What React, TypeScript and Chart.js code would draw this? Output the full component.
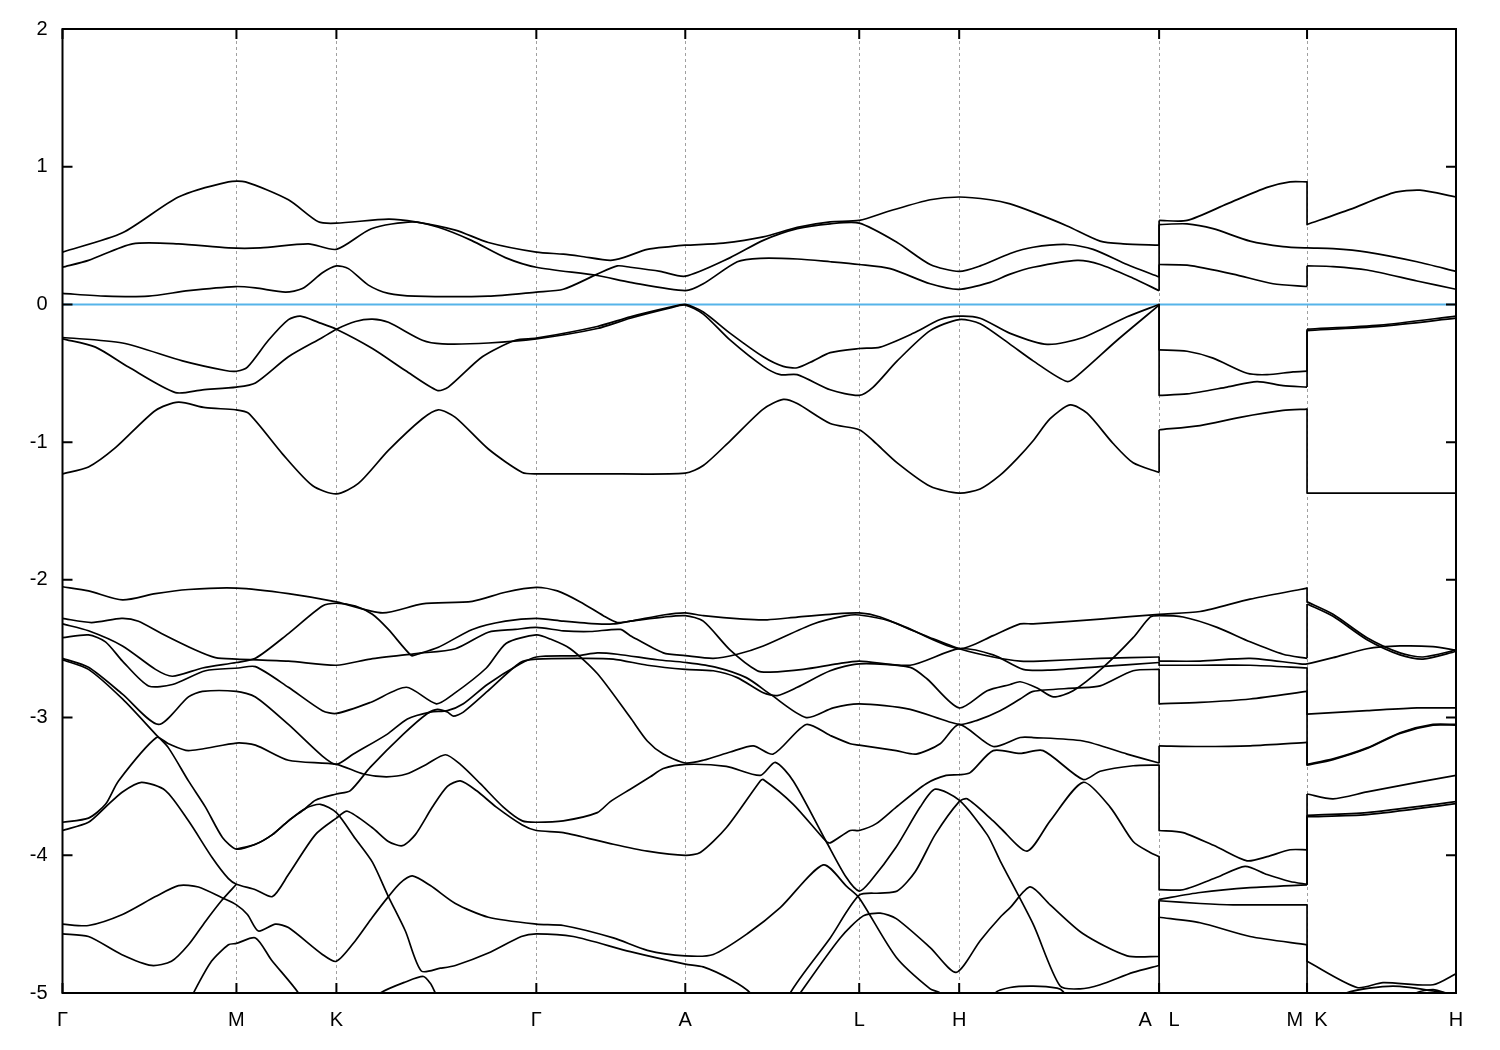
import React, { useEffect, useRef } from "react";
import { Chart, registerables } from "chart.js";

Chart.register(...registerables);

type Pt = [number, number];

// high-symmetry points along the k-path
const kTicks = [0, 174, 274, 474, 623, 797, 897, 1097, 1245, 1394];
const kLabels = ["Γ", "M", "K", "Γ", "A", "L", "H", "A   L", "M  K", "H"];
const energyTicks = [2, 1, 0, -1, -2, -3, -4, -5];
const fermiLevel = 0;

// conduction bands
const cb3: Pt[] = [[0,0.38],[60,0.52],[116,0.78],[166,0.89],[183,0.89],[226,0.76],[256,0.6],[274,0.59],[326,0.62],[353,0.6],[393,0.54],[426,0.45],[474,0.38],[501,0.365],[518,0.35],[548,0.32],[561,0.34],[585,0.4],[608,0.42],[623,0.43],[661,0.445],[701,0.49],[735,0.56],[768,0.6],[797,0.61],[828,0.68],[868,0.76],[897,0.78],[928,0.76],[948,0.73],[971,0.67],[1005,0.57],[1038,0.46],[1061,0.44],[1097,0.43],[1097,0.61],[1125,0.61],[1165,0.73],[1205,0.85],[1228,0.89],[1245,0.89],[1245,0.58],[1288,0.69],[1331,0.81],[1358,0.83],[1394,0.78]];
const cb2: Pt[] = [[0,0.27],[26,0.32],[70,0.44],[116,0.44],[166,0.41],[198,0.41],[246,0.44],[274,0.4],[309,0.55],[350,0.6],[376,0.56],[409,0.465],[443,0.34],[474,0.27],[535,0.21],[568,0.16],[623,0.1],[641,0.15],[675,0.31],[698,0.335],[735,0.33],[768,0.31],[797,0.29],[828,0.26],[868,0.15],[897,0.11],[928,0.16],[948,0.22],[971,0.27],[1015,0.32],[1038,0.29],[1071,0.19],[1097,0.1],[1097,0.29],[1125,0.285],[1171,0.22],[1211,0.15],[1245,0.13],[1245,0.28],[1271,0.275],[1305,0.25],[1355,0.17],[1394,0.11]];
const cb1: Pt[] = [[0,0.08],[43,0.06],[86,0.06],[126,0.1],[173,0.13],[193,0.12],[223,0.09],[240,0.115],[260,0.23],[274,0.28],[286,0.26],[306,0.14],[326,0.08],[353,0.06],[426,0.06],[474,0.09],[501,0.11],[535,0.22],[555,0.28],[568,0.27],[598,0.24],[623,0.205],[668,0.34],[701,0.465],[735,0.55],[768,0.585],[797,0.59],[835,0.45],[868,0.29],[897,0.24],[918,0.28],[948,0.37],[971,0.415],[1005,0.435],[1031,0.4],[1065,0.29],[1097,0.2],[1097,0.58],[1125,0.585],[1151,0.55],[1188,0.46],[1221,0.42],[1245,0.41],[1271,0.405],[1305,0.38],[1355,0.31],[1394,0.24]];

// upper valence bands
const vb1: Pt[] = [[0,-0.24],[60,-0.28],[120,-0.41],[163,-0.48],[174,-0.485],[185,-0.455],[206,-0.26],[226,-0.11],[238,-0.085],[256,-0.13],[274,-0.18],[310,-0.32],[343,-0.48],[375,-0.625],[386,-0.6],[420,-0.38],[453,-0.26],[474,-0.245],[535,-0.16],[568,-0.09],[608,-0.02],[623,0],[641,-0.055],[668,-0.21],[701,-0.38],[721,-0.45],[735,-0.46],[751,-0.41],[768,-0.35],[797,-0.32],[818,-0.31],[851,-0.21],[878,-0.11],[897,-0.085],[918,-0.1],[948,-0.21],[985,-0.29],[1021,-0.24],[1065,-0.09],[1097,0],[1097,-0.33],[1125,-0.34],[1151,-0.39],[1185,-0.5],[1205,-0.51],[1231,-0.49],[1245,-0.485],[1245,-0.18],[1318,-0.15],[1394,-0.085]];
const vb2: Pt[] = [[0,-0.25],[33,-0.31],[66,-0.455],[113,-0.64],[140,-0.62],[174,-0.6],[193,-0.57],[226,-0.38],[260,-0.24],[274,-0.18],[293,-0.124],[310,-0.107],[326,-0.13],[360,-0.26],[380,-0.286],[426,-0.28],[474,-0.25],[535,-0.175],[568,-0.1],[608,-0.025],[623,-0.005],[641,-0.07],[668,-0.26],[701,-0.45],[718,-0.51],[735,-0.51],[768,-0.62],[797,-0.66],[811,-0.6],[835,-0.41],[868,-0.19],[897,-0.11],[918,-0.14],[948,-0.29],[971,-0.41],[1005,-0.56],[1018,-0.5],[1055,-0.26],[1097,-0.005],[1097,-0.66],[1125,-0.65],[1165,-0.6],[1195,-0.56],[1221,-0.59],[1245,-0.6],[1245,-0.19],[1318,-0.16],[1394,-0.1]];
const vb3: Pt[] = [[0,-1.23],[26,-1.18],[53,-1.04],[93,-0.77],[116,-0.71],[143,-0.75],[173,-0.765],[186,-0.79],[220,-1.085],[250,-1.315],[274,-1.376],[296,-1.3],[326,-1.06],[360,-0.83],[376,-0.765],[393,-0.82],[426,-1.05],[460,-1.22],[474,-1.23],[538,-1.23],[623,-1.225],[641,-1.17],[668,-0.99],[701,-0.76],[721,-0.69],[735,-0.72],[768,-0.865],[797,-0.91],[811,-0.99],[835,-1.15],[868,-1.32],[897,-1.37],[918,-1.34],[938,-1.24],[955,-1.12],[971,-0.99],[988,-0.83],[1008,-0.73],[1025,-0.79],[1051,-1.01],[1071,-1.15],[1097,-1.22],[1097,-0.91],[1138,-0.88],[1178,-0.82],[1221,-0.77],[1245,-0.76],[1245,-1.37],[1394,-1.37]];

// lower valence bands
const lb1: Pt[] = [[0,-2.05],[26,-2.08],[60,-2.146],[93,-2.1],[126,-2.07],[174,-2.06],[226,-2.1],[274,-2.16],[320,-2.24],[360,-2.175],[410,-2.156],[443,-2.09],[474,-2.055],[495,-2.08],[518,-2.16],[541,-2.26],[555,-2.31],[568,-2.3],[601,-2.255],[623,-2.24],[641,-2.26],[681,-2.285],[705,-2.29],[735,-2.27],[768,-2.25],[797,-2.24],[818,-2.27],[851,-2.37],[897,-2.5],[931,-2.405],[958,-2.32],[971,-2.32],[1038,-2.285],[1097,-2.25],[1138,-2.23],[1188,-2.14],[1238,-2.07],[1245,-2.06],[1245,-2.16],[1271,-2.25],[1305,-2.42],[1338,-2.53],[1361,-2.56],[1394,-2.51]];
const lb2: Pt[] = [[0,-2.32],[26,-2.37],[60,-2.48],[93,-2.65],[110,-2.7],[140,-2.64],[174,-2.6],[193,-2.57],[226,-2.39],[260,-2.19],[274,-2.17],[293,-2.19],[310,-2.25],[326,-2.36],[349,-2.55],[355,-2.54],[376,-2.49],[410,-2.36],[443,-2.3],[474,-2.28],[501,-2.3],[535,-2.32],[551,-2.32],[568,-2.3],[601,-2.27],[623,-2.26],[641,-2.3],[668,-2.51],[695,-2.66],[708,-2.67],[741,-2.65],[775,-2.61],[797,-2.59],[848,-2.62],[897,-2.5],[931,-2.545],[961,-2.65],[988,-2.655],[1038,-2.63],[1097,-2.6],[1097,-2.62],[1138,-2.62],[1188,-2.62],[1245,-2.64],[1245,-2.975],[1305,-2.95],[1355,-2.93],[1394,-2.93]];
const lb3: Pt[] = [[0,-2.28],[29,-2.31],[59,-2.28],[76,-2.3],[99,-2.39],[133,-2.51],[153,-2.565],[174,-2.575],[226,-2.59],[274,-2.62],[308,-2.575],[354,-2.535],[393,-2.5],[426,-2.38],[453,-2.36],[474,-2.345],[501,-2.37],[528,-2.375],[558,-2.36],[568,-2.405],[601,-2.53],[623,-2.55],[651,-2.57],[675,-2.54],[701,-2.48],[751,-2.32],[784,-2.26],[797,-2.255],[828,-2.3],[868,-2.42],[897,-2.5],[931,-2.56],[958,-2.59],[978,-2.59],[1038,-2.57],[1097,-2.56],[1097,-2.59],[1138,-2.59],[1188,-2.57],[1238,-2.61],[1245,-2.61],[1271,-2.565],[1305,-2.5],[1338,-2.48],[1371,-2.485],[1394,-2.51]];
const lb4: Pt[] = [[0,-2.42],[26,-2.4],[43,-2.45],[60,-2.59],[86,-2.77],[110,-2.76],[143,-2.66],[176,-2.64],[193,-2.63],[226,-2.78],[260,-2.95],[274,-2.97],[308,-2.89],[344,-2.78],[374,-2.9],[391,-2.83],[424,-2.64],[444,-2.46],[474,-2.4],[488,-2.43],[508,-2.5],[535,-2.68],[568,-3.0],[585,-3.17],[601,-3.265],[623,-3.33],[641,-3.31],[668,-3.25],[691,-3.205],[711,-3.265],[744,-3.05],[768,-3.13],[788,-3.19],[797,-3.2],[834,-3.24],[854,-3.265],[878,-3.19],[897,-3.05],[931,-3.21],[958,-3.145],[971,-3.145],[1021,-3.17],[1065,-3.265],[1097,-3.33],[1097,-3.205],[1138,-3.21],[1188,-3.205],[1245,-3.18],[1245,-3.34],[1271,-3.3],[1305,-3.22],[1338,-3.11],[1371,-3.05],[1394,-3.05]];
const lb5: Pt[] = [[0,-2.57],[26,-2.635],[60,-2.83],[96,-3.05],[126,-2.85],[140,-2.81],[174,-2.81],[193,-2.85],[226,-3.05],[260,-3.28],[274,-3.34],[291,-3.265],[325,-3.12],[345,-3.01],[368,-2.96],[385,-2.95],[401,-2.9],[425,-2.76],[458,-2.61],[474,-2.56],[515,-2.55],[535,-2.53],[555,-2.54],[595,-2.58],[623,-2.6],[654,-2.635],[684,-2.71],[708,-2.83],[744,-3.0],[771,-2.93],[797,-2.9],[848,-2.94],[897,-3.05],[915,-3.02],[938,-2.95],[958,-2.865],[971,-2.81],[1015,-2.785],[1038,-2.77],[1071,-2.66],[1097,-2.65],[1097,-2.9],[1138,-2.89],[1188,-2.865],[1245,-2.81],[1245,-3.345],[1271,-3.305],[1305,-3.225],[1338,-3.115],[1371,-3.055],[1394,-3.055]];
const lb6: Pt[] = [[0,-2.58],[26,-2.65],[60,-2.865],[93,-3.12],[106,-3.22],[126,-3.46],[143,-3.65],[160,-3.87],[174,-3.955],[193,-3.92],[210,-3.85],[226,-3.75],[243,-3.66],[253,-3.6],[274,-3.555],[288,-3.53],[308,-3.36],[341,-3.12],[365,-2.97],[375,-2.94],[385,-2.96],[391,-2.99],[401,-2.96],[425,-2.81],[458,-2.6],[474,-2.575],[518,-2.57],[551,-2.575],[585,-2.62],[623,-2.65],[651,-2.66],[675,-2.71],[701,-2.82],[715,-2.84],[735,-2.78],[768,-2.66],[797,-2.61],[848,-2.635],[865,-2.72],[897,-2.93],[925,-2.805],[948,-2.76],[958,-2.74],[975,-2.785],[991,-2.85],[1011,-2.805],[1041,-2.635],[1071,-2.42],[1088,-2.27],[1097,-2.26],[1121,-2.27],[1155,-2.345],[1188,-2.45],[1221,-2.54],[1245,-2.57],[1245,-2.175],[1271,-2.265],[1305,-2.435],[1338,-2.545],[1361,-2.575],[1394,-2.52]];
const lb7: Pt[] = [[0,-3.76],[26,-3.73],[43,-3.63],[56,-3.46],[94,-3.145],[106,-3.19],[126,-3.24],[174,-3.185],[193,-3.2],[226,-3.31],[274,-3.34],[301,-3.41],[324,-3.43],[344,-3.41],[364,-3.34],[383,-3.27],[398,-3.34],[418,-3.48],[441,-3.65],[460,-3.75],[474,-3.76],[501,-3.75],[535,-3.69],[548,-3.61],[568,-3.52],[588,-3.43],[601,-3.37],[623,-3.34],[664,-3.355],[698,-3.42],[713,-3.325],[731,-3.46],[764,-3.9],[784,-4.16],[797,-4.26],[808,-4.19],[834,-3.94],[858,-3.65],[873,-3.52],[897,-3.6],[925,-3.85],[938,-4.04],[971,-4.5],[998,-4.95],[1018,-4.97],[1038,-4.94],[1071,-4.85],[1097,-4.8],[1097,-4.33],[1138,-4.35],[1171,-4.36],[1245,-4.36],[1245,-4.77],[1295,-4.96],[1321,-4.925],[1371,-4.94],[1394,-4.86]];
const lb8: Pt[] = [[0,-3.82],[26,-3.76],[43,-3.65],[60,-3.54],[79,-3.47],[103,-3.53],[126,-3.75],[150,-4.02],[166,-4.17],[174,-4.21],[193,-4.25],[210,-4.3],[226,-4.14],[253,-3.85],[274,-3.73],[285,-3.68],[310,-3.8],[326,-3.9],[340,-3.93],[353,-3.85],[370,-3.65],[385,-3.5],[398,-3.46],[414,-3.53],[434,-3.65],[460,-3.78],[474,-3.82],[501,-3.835],[551,-3.92],[585,-3.97],[623,-4.0],[638,-3.98],[664,-3.8],[698,-3.46],[701,-3.45],[731,-3.63],[764,-3.9],[768,-3.91],[788,-3.82],[797,-3.82],[814,-3.77],[834,-3.65],[864,-3.48],[884,-3.42],[897,-3.415],[908,-3.4],[931,-3.24],[958,-3.26],[981,-3.24],[1021,-3.45],[1038,-3.39],[1071,-3.35],[1097,-3.345],[1097,-3.82],[1121,-3.835],[1155,-3.94],[1185,-4.04],[1205,-4.01],[1228,-3.96],[1245,-3.96],[1245,-3.555],[1271,-3.59],[1305,-3.54],[1355,-3.47],[1394,-3.42]];
const lb9: Pt[] = [[0,-4.5],[26,-4.51],[60,-4.43],[93,-4.3],[116,-4.22],[136,-4.23],[160,-4.31],[174,-4.36],[185,-4.43],[196,-4.55],[213,-4.5],[226,-4.525],[260,-4.72],[274,-4.77],[293,-4.62],[310,-4.45],[326,-4.3],[338,-4.2],[350,-4.15],[368,-4.22],[393,-4.35],[426,-4.45],[474,-4.5],[501,-4.51],[551,-4.6],[585,-4.69],[623,-4.73],[651,-4.72],[685,-4.57],[718,-4.38],[761,-4.07],[785,-4.23],[797,-4.31],[834,-4.74],[868,-4.97],[878,-5.0],[895,-5.15],[925,-5.15],[933,-5.0],[948,-4.96],[971,-4.95],[995,-4.965],[1001,-4.99],[1010,-5.1],[1097,-5.2],[1097,-4.45],[1138,-4.49],[1188,-4.59],[1245,-4.65],[1245,-5.2],[1270,-5.1],[1284,-5.0],[1331,-4.95],[1384,-5.0],[1394,-5.02]];
const lb10: Pt[] = [[174,-3.955],[193,-3.92],[210,-3.85],[226,-3.75],[243,-3.66],[258,-3.63],[274,-3.69],[293,-3.88],[310,-4.05],[326,-4.3],[343,-4.55],[359,-4.84],[378,-4.82],[393,-4.8],[426,-4.71],[459,-4.59],[474,-4.57],[511,-4.59],[568,-4.7],[623,-4.79],[641,-4.81],[668,-4.9],[688,-5.0],[708,-5.25],[718,-5.25],[728,-5.0],[768,-4.6],[797,-4.29],[818,-4.275],[835,-4.26],[853,-4.12],[873,-3.85],[897,-3.61],[905,-3.59],[931,-3.75],[938,-3.8],[965,-3.97],[988,-3.75],[1021,-3.47],[1048,-3.65],[1071,-3.9],[1088,-3.98],[1097,-4.01],[1097,-4.25],[1121,-4.25],[1155,-4.16],[1183,-4.08],[1205,-4.14],[1228,-4.19],[1245,-4.21],[1245,-3.71],[1305,-3.69],[1394,-3.61]];
const lb11: Pt[] = [[0,-5.4],[110,-5.3],[125,-5.1],[131,-5.0],[149,-4.77],[166,-4.65],[174,-4.64],[193,-4.6],[209,-4.76],[236,-5.0],[250,-5.2],[290,-5.2],[305,-5.1],[318,-5.0],[343,-4.92],[361,-4.88],[368,-4.93],[373,-5.0],[385,-5.15],[474,-5.4],[623,-5.45],[710,-5.3],[738,-5.0],[778,-4.6],[801,-4.44],[818,-4.42],[834,-4.46],[868,-4.67],[894,-4.85],[918,-4.62],[938,-4.45],[948,-4.38],[968,-4.23],[988,-4.36],[1021,-4.57],[1065,-4.73],[1097,-4.735],[1097,-4.32],[1138,-4.27],[1188,-4.235],[1245,-4.215],[1245,-3.72],[1305,-3.705],[1394,-3.625]];
const lb12: Pt[] = [[0,-4.57],[26,-4.59],[59,-4.72],[89,-4.8],[109,-4.77],[126,-4.65],[143,-4.48],[159,-4.33],[174,-4.21]];
const lb13: Pt[] = [[1330,-5.15],[1354,-5.0],[1371,-4.975],[1384,-5.0],[1394,-5.03]];

const bands: Pt[][] = [cb3, cb2, cb1, vb1, vb2, vb3, lb1, lb2, lb3, lb4, lb5, lb6, lb7, lb8, lb9, lb10, lb11, lb12, lb13];

const FONT = { family: "'Liberation Sans', Arial, sans-serif", size: 20 };

function lineDataset(points: Pt[], tension: number) {
  return {
    data: points.map(([x, y]) => ({ x, y })),
    borderColor: "#000000",
    borderWidth: 1.7,
    pointRadius: 0,
    pointHoverRadius: 0,
    fill: false,
    tension,
    borderJoinStyle: "round" as const,
  };
}

function bandDatasets(band: Pt[]) {
  const out: any[] = [];
  let seg: Pt[] = [band[0]];
  for (let i = 1; i < band.length; i++) {
    if (band[i][0] === band[i - 1][0]) {
      if (seg.length > 1) out.push(lineDataset(seg, 0.25));
      out.push(lineDataset([band[i - 1], band[i]], 0));
      seg = [band[i]];
    } else {
      seg.push(band[i]);
    }
  }
  if (seg.length > 1) out.push(lineDataset(seg, 0.25));
  return out;
}

const framePlugin = {
  id: "frame",
  beforeDatasetsDraw(chart: any) {
    const { ctx, chartArea: a, scales } = chart;
    const xs = scales.x;
    ctx.save();
    ctx.strokeStyle = "#a0a0a0";
    ctx.lineWidth = 1;
    ctx.setLineDash([3, 3]);
    kTicks.slice(1, -1).forEach((k) => {
      const px = Math.round(xs.getPixelForValue(k)) + 0.5;
      ctx.beginPath();
      ctx.moveTo(px, a.top);
      ctx.lineTo(px, a.bottom);
      ctx.stroke();
    });
    ctx.restore();
  },
  afterDatasetsDraw(chart: any) {
    const { ctx, chartArea: a, scales } = chart;
    const xs = scales.x;
    const ys = scales.y;
    ctx.save();
    ctx.strokeStyle = "#000";
    ctx.lineWidth = 2;
    ctx.setLineDash([]);
    ctx.strokeRect(a.left, a.top, a.right - a.left, a.bottom - a.top);
    const L = 10;
    ctx.beginPath();
    energyTicks.forEach((e) => {
      const py = ys.getPixelForValue(e);
      ctx.moveTo(a.left, py);
      ctx.lineTo(a.left + L, py);
      ctx.moveTo(a.right, py);
      ctx.lineTo(a.right - L, py);
    });
    kTicks.forEach((k) => {
      const px = xs.getPixelForValue(k);
      ctx.moveTo(px, a.bottom);
      ctx.lineTo(px, a.bottom - L);
      ctx.moveTo(px, a.top);
      ctx.lineTo(px, a.top + L);
    });
    ctx.stroke();
    ctx.restore();
  },
};

export default function App() {
  const ref = useRef<HTMLCanvasElement | null>(null);

  useEffect(() => {
    if (!ref.current) return;
    const datasets: any[] = [];
    bands.forEach((b) => datasets.push(...bandDatasets(b)));
    datasets.push({
      data: [
        { x: kTicks[0], y: fermiLevel },
        { x: kTicks[kTicks.length - 1], y: fermiLevel },
      ],
      borderColor: "rgb(86,180,233)",
      borderWidth: 2,
      pointRadius: 0,
      fill: false,
      tension: 0,
    });

    const chart = new Chart(ref.current, {
      type: "line",
      data: { datasets },
      options: {
        animation: false,
        responsive: false,
        devicePixelRatio: 1,
        events: [],
        layout: { padding: { left: 0, right: 44, top: 29, bottom: 0 } },
        plugins: { legend: { display: false }, tooltip: { enabled: false } },
        scales: {
          x: {
            type: "linear",
            min: kTicks[0],
            max: kTicks[kTicks.length - 1],
            afterBuildTicks: (s: any) => {
              s.ticks = kTicks.map((v) => ({ value: v }));
            },
            afterFit: (s: any) => {
              s.height = 57;
            },
            grid: { display: false, drawTicks: false },
            border: { display: false },
            ticks: {
              autoSkip: false,
              maxRotation: 0,
              minRotation: 0,
              padding: 15,
              color: "#000",
              font: FONT,
              callback: (_v: any, i: number) => kLabels[i] ?? "",
            },
          },
          y: {
            type: "linear",
            min: -5,
            max: 2,
            afterBuildTicks: (s: any) => {
              s.ticks = energyTicks.map((v) => ({ value: v }));
            },
            afterFit: (s: any) => {
              s.width = 62.5;
            },
            grid: { display: false, drawTicks: false },
            border: { display: false },
            ticks: {
              padding: 15,
              color: "#000",
              font: FONT,
              callback: (v: any) => String(v),
            },
          },
        },
      },
      plugins: [framePlugin],
    } as any);
    return () => chart.destroy();
  }, []);

  return (
    <div style={{ position: "absolute", left: 0, top: 0, width: 1500, height: 1050, background: "#fff" }}>
      <canvas ref={ref} width={1500} height={1050} style={{ display: "block" }} />
    </div>
  );
}
